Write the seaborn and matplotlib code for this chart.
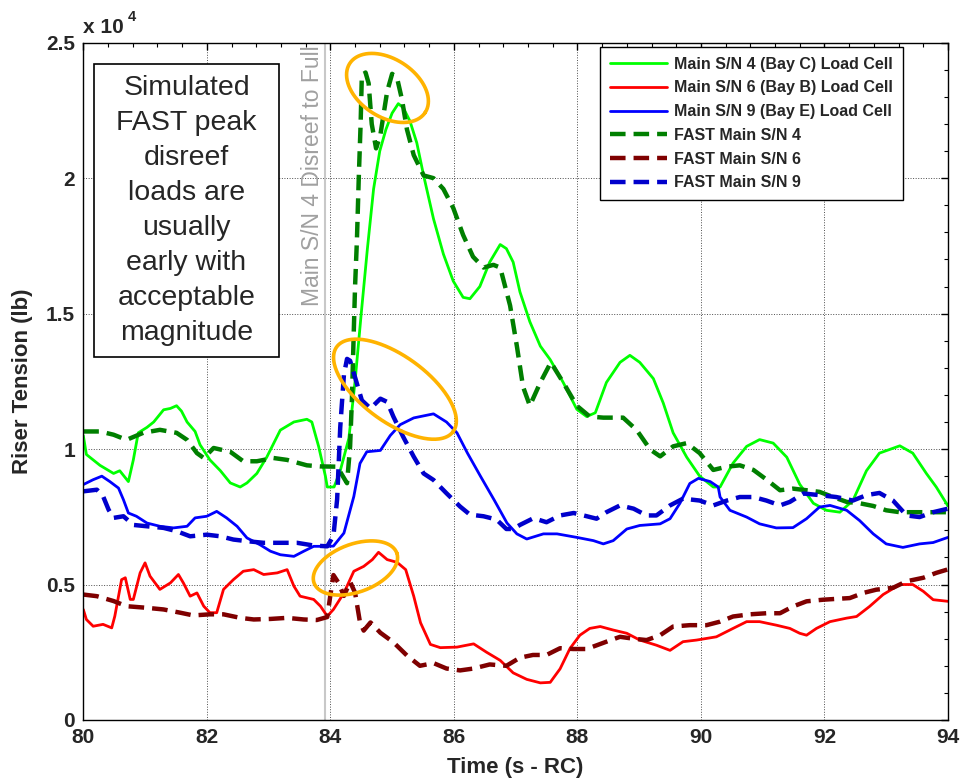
import matplotlib
matplotlib.use("Agg")
import matplotlib.pyplot as plt
from matplotlib.patches import Rectangle
from matplotlib.ticker import MultipleLocator
import seaborn as sns
import pandas as pd
import numpy as np

# riser tension in units of 1e4 lb
t_lc4 = [80.0, 80.05, 80.27, 80.49, 80.59, 80.73, 80.81, 80.89, 81.03, 81.14, 81.30, 81.41, 81.51, 81.59,
         81.68, 81.81, 81.89, 82.05, 82.22, 82.38, 82.54, 82.65, 82.81, 82.97, 83.19, 83.41, 83.62, 83.70,
         83.81, 83.92, 83.95, 84.06, 84.16, 84.30, 84.40, 84.50, 84.60, 84.70, 84.80, 84.90, 85.00, 85.10,
         85.18, 85.29, 85.40, 85.51, 85.67, 85.83, 85.99, 86.15, 86.26, 86.42, 86.58, 86.75, 86.85, 86.96,
         87.07, 87.23, 87.40, 87.56, 87.77, 87.99, 88.15, 88.29, 88.47, 88.69, 88.85, 89.01, 89.23, 89.39,
         89.55, 89.77, 89.98, 90.20, 90.31, 90.52, 90.74, 90.95, 91.17, 91.39, 91.60, 91.82, 92.03, 92.25,
         92.46, 92.68, 92.89, 93.22, 93.43, 93.65, 93.81, 94.0]
lc4 = [1.05, 0.98, 0.94, 0.91, 0.92, 0.88, 0.96, 1.06, 1.08, 1.10, 1.145, 1.15, 1.16, 1.14,
       1.10, 1.065, 1.016, 0.96, 0.92, 0.875, 0.86, 0.875, 0.91, 0.97, 1.07, 1.10, 1.11, 1.10,
       1.01, 0.90, 0.86, 0.86, 0.92, 1.04, 1.25, 1.50, 1.74, 1.96, 2.10, 2.18, 2.24, 2.275,
       2.26, 2.21, 2.13, 2.01, 1.85, 1.72, 1.62, 1.56, 1.555, 1.60, 1.69, 1.755, 1.74, 1.69,
       1.58, 1.47, 1.38, 1.33, 1.246, 1.147, 1.12, 1.134, 1.246, 1.32, 1.346, 1.32, 1.26, 1.17,
       1.06, 0.97, 0.90, 0.86, 0.86, 0.948, 1.01, 1.035, 1.022, 0.97, 0.87, 0.80, 0.774, 0.767,
       0.81, 0.92, 0.985, 1.012, 0.985, 0.91, 0.86, 0.79]

t_lc6 = [80.0, 80.05, 80.16, 80.32, 80.46, 80.51, 80.62, 80.68, 80.76, 80.81, 80.92, 81.0, 81.08, 81.24,
         81.41, 81.54, 81.62, 81.73, 81.84, 81.95, 82.05, 82.16, 82.27, 82.43, 82.59, 82.76, 82.92, 83.14,
         83.30, 83.41, 83.51, 83.73, 83.84, 83.95, 84.05, 84.22, 84.38, 84.54, 84.68, 84.78, 84.92, 85.08,
         85.22, 85.35, 85.46, 85.62, 85.78, 86.05, 86.32, 86.53, 86.75, 86.96, 87.18, 87.40, 87.56, 87.72,
         87.88, 88.04, 88.20, 88.37, 88.58, 88.80, 89.01, 89.28, 89.50, 89.71, 89.93, 90.25, 90.52, 90.74,
         90.95, 91.22, 91.44, 91.60, 91.71, 91.87, 92.09, 92.36, 92.52, 92.73, 92.95, 93.22, 93.43, 93.60,
         93.76, 94.0]
lc6 = [0.408, 0.371, 0.346, 0.353, 0.34, 0.383, 0.518, 0.525, 0.445, 0.445, 0.543, 0.58, 0.531, 0.482,
       0.506, 0.537, 0.506, 0.457, 0.469, 0.42, 0.396, 0.396, 0.482, 0.518, 0.549, 0.555, 0.537, 0.543,
       0.555, 0.494, 0.457, 0.445, 0.42, 0.383, 0.408, 0.469, 0.549, 0.567, 0.592, 0.619, 0.592, 0.582,
       0.555, 0.457, 0.359, 0.279, 0.267, 0.269, 0.281, 0.25, 0.22, 0.174, 0.15, 0.137, 0.139, 0.189,
       0.264, 0.313, 0.338, 0.345, 0.332, 0.32, 0.295, 0.276, 0.257, 0.289, 0.295, 0.307, 0.338, 0.363,
       0.363, 0.35, 0.338, 0.32, 0.313, 0.338, 0.363, 0.376, 0.382, 0.419, 0.463, 0.50, 0.50, 0.475,
       0.444, 0.438]

t_lc9 = [80.0, 80.16, 80.30, 80.43, 80.57, 80.65, 80.73, 80.86, 81.03, 81.24, 81.46, 81.68, 81.81, 82.0,
         82.16, 82.32, 82.49, 82.65, 82.86, 83.03, 83.19, 83.41, 83.57, 83.73, 83.95, 84.05, 84.22, 84.38,
         84.48, 84.59, 84.81, 84.97, 85.13, 85.35, 85.67, 85.88, 86.05, 86.22, 86.43, 86.65, 86.86, 87.02,
         87.18, 87.45, 87.67, 87.99, 88.26, 88.42, 88.58, 88.80, 89.01, 89.34, 89.50, 89.66, 89.82, 89.96,
         90.15, 90.28, 90.31, 90.47, 90.74, 90.95, 91.22, 91.49, 91.71, 91.92, 92.09, 92.36, 92.57, 92.79,
         93.0, 93.27, 93.54, 93.76, 94.0]
lc9 = [0.869, 0.887, 0.90, 0.88, 0.856, 0.813, 0.764, 0.752, 0.727, 0.715, 0.709, 0.715, 0.746, 0.752,
       0.77, 0.746, 0.715, 0.672, 0.647, 0.623, 0.61, 0.604, 0.623, 0.641, 0.641, 0.642, 0.69, 0.825,
       0.947, 0.99, 0.995, 1.05, 1.09, 1.115, 1.13, 1.10, 1.06, 0.985, 0.90, 0.813, 0.727, 0.687,
       0.668, 0.687, 0.687, 0.674, 0.662, 0.65, 0.662, 0.705, 0.718, 0.724, 0.743, 0.80, 0.873, 0.892,
       0.88, 0.86, 0.823, 0.774, 0.749, 0.724, 0.709, 0.71, 0.743, 0.786, 0.792, 0.774, 0.736, 0.687,
       0.65, 0.637, 0.65, 0.655, 0.674]

t_fast4 = [80.0, 80.27, 80.49, 80.70, 80.97, 81.24, 81.51, 81.68, 81.84, 81.95, 82.11, 82.38, 82.59, 82.81,
           83.08, 83.30, 83.62, 83.84, 84.11, 84.27, 84.32, 84.35, 84.38, 84.40, 84.43, 84.46, 84.49, 84.51,
           84.57, 84.62, 84.67, 84.74, 84.81, 84.92, 85.00, 85.08, 85.16, 85.24, 85.35, 85.51, 85.67, 85.83,
           85.99, 86.15, 86.31, 86.48, 86.64, 86.75, 86.91, 87.02, 87.12, 87.23, 87.40, 87.57, 87.77, 87.99,
           88.20, 88.42, 88.74, 88.96, 89.18, 89.34, 89.55, 89.77, 89.98, 90.20, 90.42, 90.63, 90.85, 91.07,
           91.28, 91.49, 91.71, 91.92, 92.14, 92.36, 92.57, 92.79, 93.00, 93.22, 93.54, 94.0]
fast4 = [1.065, 1.065, 1.053, 1.034, 1.06, 1.071, 1.06, 1.034, 0.985, 0.967, 1.004, 0.99, 0.955, 0.955,
         0.967, 0.96, 0.94, 0.936, 0.935, 0.874, 1.01, 1.19, 1.44, 1.60, 1.77, 2.0, 2.2, 2.38,
         2.39, 2.35, 2.20, 2.11, 2.16, 2.32, 2.385, 2.37, 2.29, 2.18, 2.085, 2.01, 2.0, 1.96,
         1.89, 1.79, 1.71, 1.67, 1.68, 1.67, 1.53, 1.38, 1.23, 1.16, 1.246, 1.32, 1.246, 1.16,
         1.12, 1.116, 1.116, 1.07, 0.998, 0.973, 1.01, 1.022, 0.985, 0.923, 0.935, 0.94, 0.923, 0.886,
         0.848, 0.854, 0.848, 0.842, 0.823, 0.805, 0.80, 0.79, 0.774, 0.767, 0.767, 0.767]

t_fast6 = [80.0, 80.22, 80.49, 80.70, 81.03, 81.30, 81.57, 81.78, 82.05, 82.27, 82.54, 82.76, 83.03, 83.30,
           83.57, 83.78, 83.95, 84.0, 84.05, 84.13, 84.22, 84.32, 84.40, 84.48, 84.54, 84.65, 84.81, 85.02,
           85.24, 85.45, 85.67, 85.88, 86.10, 86.32, 86.58, 86.85, 87.07, 87.28, 87.50, 87.72, 87.93, 88.15,
           88.47, 88.69, 88.91, 89.12, 89.34, 89.55, 89.82, 90.09, 90.31, 90.52, 90.79, 91.06, 91.28, 91.49,
           91.71, 91.98, 92.19, 92.41, 92.63, 92.84, 93.11, 93.33, 93.60, 93.81, 94.0]
fast6 = [0.463, 0.457, 0.439, 0.42, 0.414, 0.408, 0.396, 0.386, 0.39, 0.39, 0.377, 0.371, 0.373, 0.377,
         0.371, 0.369, 0.38, 0.46, 0.535, 0.507, 0.458, 0.51, 0.47, 0.36, 0.33, 0.36, 0.322, 0.287,
         0.238, 0.20, 0.21, 0.19, 0.183, 0.19, 0.205, 0.20, 0.23, 0.24, 0.24, 0.265, 0.262, 0.262,
         0.289, 0.307, 0.30, 0.295, 0.313, 0.345, 0.35, 0.35, 0.363, 0.382, 0.39, 0.394, 0.394, 0.419,
         0.438, 0.444, 0.447, 0.45, 0.469, 0.481, 0.488, 0.512, 0.525, 0.543, 0.556]

t_fast9 = [80.0, 80.22, 80.32, 80.41, 80.49, 80.65, 80.81, 81.03, 81.30, 81.51, 81.73, 82.0, 82.22, 82.43,
           82.65, 82.92, 83.19, 83.46, 83.73, 83.95, 84.05, 84.11, 84.16, 84.22, 84.27, 84.32, 84.40, 84.51,
           84.65, 84.81, 84.92, 85.02, 85.18, 85.35, 85.51, 85.67, 85.88, 86.10, 86.26, 86.48, 86.69, 86.85,
           86.96, 87.07, 87.29, 87.50, 87.72, 87.94, 88.10, 88.31, 88.47, 88.69, 88.91, 89.12, 89.28, 89.50,
           89.71, 89.98, 90.20, 90.42, 90.63, 90.85, 91.06, 91.28, 91.44, 91.66, 91.92, 92.19, 92.46, 92.68,
           92.89, 93.11, 93.33, 93.54, 93.76, 94.0]
fast9 = [0.844, 0.85, 0.826, 0.776, 0.746, 0.752, 0.72, 0.715, 0.709, 0.697, 0.678, 0.684, 0.678, 0.666,
         0.66, 0.654, 0.654, 0.654, 0.644, 0.641, 0.68, 0.815, 1.08, 1.275, 1.333, 1.326, 1.265, 1.18,
         1.15, 1.186, 1.174, 1.12, 1.045, 0.972, 0.91, 0.886, 0.837, 0.788, 0.758, 0.752, 0.74, 0.705,
         0.705, 0.72, 0.745, 0.73, 0.755, 0.764, 0.755, 0.743, 0.767, 0.792, 0.78, 0.755, 0.755, 0.792,
         0.817, 0.81, 0.792, 0.81, 0.823, 0.823, 0.81, 0.792, 0.805, 0.836, 0.83, 0.823, 0.81, 0.83,
         0.838, 0.81, 0.755, 0.749, 0.767, 0.78]

labels = ['Main S/N 4 (Bay C) Load Cell', 'Main S/N 6 (Bay B) Load Cell', 'Main S/N 9 (Bay E) Load Cell',
          'FAST Main S/N 4', 'FAST Main S/N 6', 'FAST Main S/N 9']
x_ticks = [80, 82, 84, 86, 88, 90, 92, 94]
y_ticks = [0, 0.5, 1, 1.5, 2, 2.5]
y_tick_labels = ['0', '0.5', '1', '1.5', '2', '2.5']

# highlighted regions: centre (data), semi-axes in pixels, tilt in degrees
ellipse_centres = [(84.925, 2.333), (85.046, 1.221), (84.406, 0.561)]
ellipse_axes = [(45, 29, -33), (72, 33, -36), (44, 24, 20)]

disreef_time = 83.92
note = "Simulated\nFAST peak\ndisreef\nloads are\nusually\nearly with\nacceptable\nmagnitude"

sns.set_style("white")
plt.rcParams['font.family'] = ['Liberation Sans', 'DejaVu Sans']

fig = plt.figure(figsize=(9.63, 7.82), dpi=100)
ax = fig.add_axes([0.0865, 0.0793, 0.8979, 0.8661])

dash = (0, (3.5, 1.8))
series = [
    (t_lc4, lc4, labels[0], '#00FF00', '-', 2.0),
    (t_lc6, lc6, labels[1], '#FF0000', '-', 2.0),
    (t_lc9, lc9, labels[2], '#0000FF', '-', 2.0),
    (t_fast4, fast4, labels[3], '#007F00', dash, 3.2),
    (t_fast6, fast6, labels[4], '#7F0000', dash, 3.2),
    (t_fast9, fast9, labels[5], '#0000CC', dash, 3.2),
]
for t, y, lab, col, ls, lw in series:
    df = pd.DataFrame({'t': t, 'y': y})
    sns.lineplot(data=df, x='t', y='y', ax=ax, color=col, linestyle=ls, lw=lw,
                 label=lab, estimator=None, sort=False)

ax.set_xlim(80, 94)
ax.set_ylim(0, 2.5)
ax.set_xticks(x_ticks)
ax.set_yticks(y_ticks)
ax.set_yticklabels(y_tick_labels)
ax.xaxis.set_minor_locator(MultipleLocator(0.4))
ax.yaxis.set_minor_locator(MultipleLocator(0.1))
ax.tick_params(which='both', direction='in', top=True, right=True, color='black')
ax.tick_params(which='major', length=5, width=1, labelsize=15, pad=6)
ax.tick_params(which='minor', length=3, width=0.8)
for lab in ax.get_xticklabels() + ax.get_yticklabels():
    lab.set_fontweight('bold')
ax.grid(True, which='major', linestyle=':', color='0.3', lw=0.7)
for sp in ax.spines.values():
    sp.set_color('black')
    sp.set_linewidth(1.0)

ax.set_xlabel('Time (s - RC)', fontsize=16, fontweight='bold', labelpad=7)
ax.set_ylabel('Riser Tension (lb)', fontsize=16, fontweight='bold', labelpad=9)

fig.text(83 / 963, 1 - 33 / 782, 'x 10', fontsize=15, fontweight='bold', va='baseline', ha='left')
fig.text(128 / 963, 1 - 21 / 782, '4', fontsize=10.5, fontweight='bold', va='baseline', ha='left')

# disreef marker
ax.axvline(disreef_time, color='#C8C8C8', lw=1.5, zorder=1)
ax.text(disreef_time - 0.03, 2.49, 'Main S/N 4 Disreef to Full', rotation=90, ha='right', va='top',
        color='#A0A0A0', fontsize=16.5, zorder=2)

# note box
ax.add_patch(Rectangle((0.0124, 0.536), 0.2139, 0.4326, transform=ax.transAxes,
                       facecolor='white', edgecolor='black', lw=1.2, zorder=5))
ax.text(0.1194, 0.752, note, transform=ax.transAxes, ha='center', va='center',
        fontsize=20.5, linespacing=1.45, zorder=6)

leg = ax.legend(loc='upper left', bbox_to_anchor=(0.5976, 0.9937), borderaxespad=0,
                prop={'weight': 'bold', 'size': 11.5}, handlelength=3.6, handletextpad=0.45,
                borderpad=0.6, labelspacing=0.55, fancybox=False, framealpha=1)
leg.get_frame().set_edgecolor('black')
leg.get_frame().set_linewidth(1.0)
leg.set_zorder(7)

# orange ellipses drawn in pixel space, mapped back to data coordinates
th = np.linspace(0, 2 * np.pi, 240)
for (cx, cy), (a, b, ang) in zip(ellipse_centres, ellipse_axes):
    c = ax.transData.transform((cx, cy))
    r = np.deg2rad(ang)
    ex, ey = a * np.cos(th), b * np.sin(th)
    px = c[0] + ex * np.cos(r) - ey * np.sin(r)
    py = c[1] + ex * np.sin(r) + ey * np.cos(r)
    pts = ax.transData.inverted().transform(np.column_stack([px, py]))
    ax.plot(pts[:, 0], pts[:, 1], color='#FFB300', lw=2.6, zorder=8)

fig.savefig('out.png', dpi=100)
